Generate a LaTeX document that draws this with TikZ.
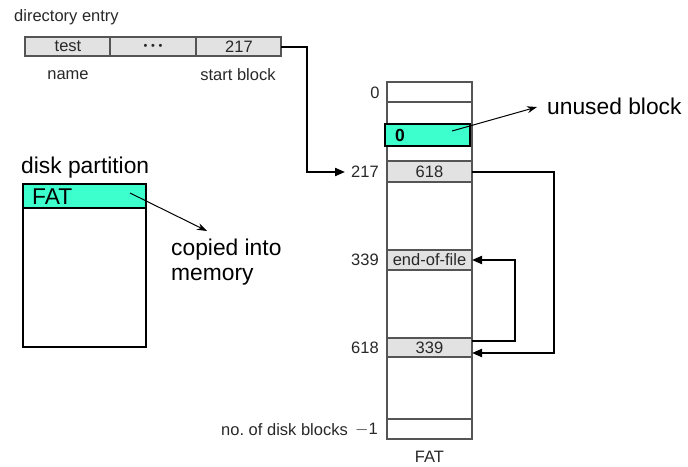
\documentclass[tikz,border=0pt]{standalone}
\usepackage{fontspec}
\setmainfont{Liberation Sans}
\usetikzlibrary{arrows.meta}
\definecolor{teal1}{RGB}{60,255,205}
\definecolor{cellgray}{RGB}{226,226,226}
\definecolor{linegray}{RGB}{85,85,85}
\definecolor{txtgray}{RGB}{40,40,40}
\begin{document}
\begin{tikzpicture}[x=1pt,y=-1pt,
  small/.style={font=\fontsize{16.5}{19}\selectfont, text=txtgray, inner sep=0pt},
  big/.style={font=\fontsize{22.8}{27}\selectfont, inner sep=0pt},
  cell/.style={draw=linegray, line width=1.3pt, fill=cellgray},
  col/.style={draw=linegray, line width=1.3pt},
  link/.style={line width=2pt, -{Triangle[length=10pt,width=8pt]}},
  thin arrow/.style={line width=1pt, -{Stealth[length=10pt,width=7pt]}}]
\useasboundingbox (0,0) rectangle (688,466);

% directory entry
\node[small, anchor=west] (dirlbl) at (14,17) {directory entry};
\draw[cell] (25,37) rectangle (281,56);
\draw[col] (110,37) -- (110,56);
\draw[col] (196,37) -- (196,56);
\node[small] (name) at (68,46.5) {test};
\node[small, font=\fontsize{11}{12}\selectfont] (dots) at (153,47) {•\,\,•\,\,•};
\node[small] (sb) at (239,46.5) {217};
\coordinate (sbR) at (281,46.5);
\node[small] (namelbl) at (68,75) {name};
\node[small] (sblbl) at (238,75) {start block};

% FAT column
\draw[col] (387,82) rectangle (472,439);
\draw[col] (387,102) -- (472,102);
\draw[cell] (387,161) rectangle (472,182);
\draw[cell] (387,250) rectangle (472,270);
\draw[cell] (387,338) rectangle (472,357);
\draw[col] (387,419) -- (472,419);
\node[small] (c217) at (429.5,172) {618};
\node[small] (c339) at (429.5,260) {end-of-file};
\node[small] (c618) at (429.5,348) {339};
\coordinate (r217) at (472,172);
\coordinate (r339) at (472,260);
\coordinate (r618a) at (472,341);
\coordinate (r618b) at (472,353);

% unused block
\draw[draw=black, line width=2pt, fill=teal1] (385,123.5) rectangle (470,146);
\node[font=\bfseries\fontsize{17.5}{20}\selectfont, inner sep=0pt, anchor=west] (zero) at (395,135.5) {0};
\coordinate (ub) at (452,131);
\node[big, anchor=west] (unused) at (547,106) {unused block};
\draw[thin arrow] (ub) -- (537,107);

% row labels
\node[small] (l0) at (375,93) {0};
\node[small] (l217) at (365,172) {217};
\node[small] (l339) at (365,260) {339};
\node[small] (l618) at (365,348) {618};
\node[small, anchor=east] (lm1) at (348,430) {no.\ of disk blocks};
\node[small, anchor=east] (m1) at (378,430) {$-$1};
\node[small] (fatlbl) at (429.5,457) {FAT};

% links
\draw[link, line join=miter] (sbR) -- (307,46.5) -- (307,172) -- (345,172);
\draw[link] (r217) -- (554,172) -- (554,353) -- (r618b);
\draw[link] (r618a) -- (515,341) -- (515,260) -- (r339);

% disk partition
\node[big, anchor=west] (dp) at (21,168) {disk partition};
\draw[line width=1.5pt, fill=teal1] (23,184) rectangle (146,208);
\draw[line width=1.5pt] (23,184) rectangle (146,347);
\node[big, anchor=west] (fat) at (32,196.5) {FAT};
\coordinate (fatp) at (130,193);
\draw[thin arrow] (fatp) -- (207,231);
\node[big, anchor=west] (cop) at (171,250) {copied into};
\node[big, anchor=west] (mem) at (171,277) {memory};
\end{tikzpicture}
\end{document}
